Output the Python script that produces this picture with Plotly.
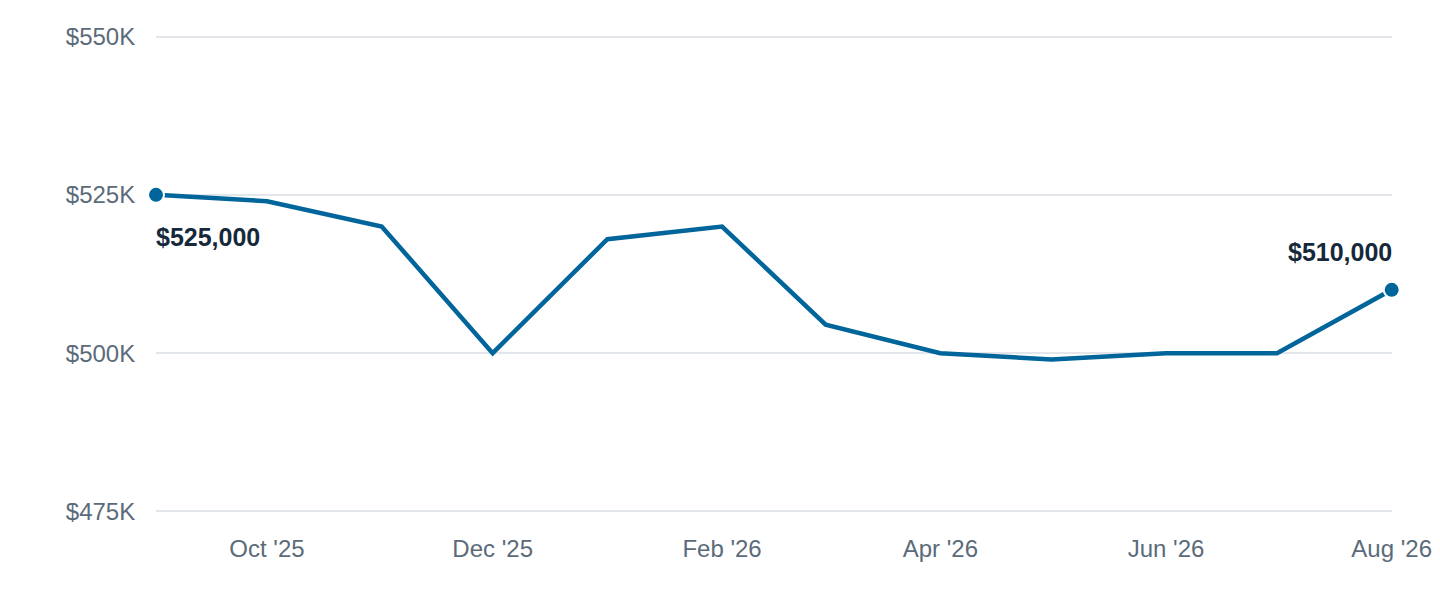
import plotly.graph_objects as go

# monthly median price
months = ["2025-09-01", "2025-10-01", "2025-11-01", "2025-12-01", "2026-01-01", "2026-02-01",
          "2026-03-01", "2026-04-01", "2026-05-01", "2026-06-01", "2026-07-01", "2026-08-01"]
prices = [525000, 524000, 520000, 500000, 518000, 520000,
          504500, 500000, 499000, 500000, 500000, 510000]

tick_vals = ["2025-10-01", "2025-12-01", "2026-02-01", "2026-04-01", "2026-06-01", "2026-08-01"]
tick_text = ["Oct '25", "Dec '25", "Feb '26", "Apr '26", "Jun '26", "Aug '26"]
y_ticks = [475000, 500000, 525000, 550000]
y_text = ["$475K", "$500K", "$525K", "$550K"]

line_color = "#00659a"
font = "Helvetica, Arial, Liberation Sans, sans-serif"

fig = go.Figure()
fig.add_trace(go.Scatter(
    x=months, y=prices, mode="lines",
    line=dict(color=line_color, width=4.5),
    cliponaxis=False, hoverinfo="skip",
))
# end points
fig.add_trace(go.Scatter(
    x=[months[0], months[-1]], y=[prices[0], prices[-1]], mode="markers",
    marker=dict(color=line_color, size=16, line=dict(color="white", width=2)),
    cliponaxis=False, hoverinfo="skip",
))

fig.add_annotation(x=months[0], y=prices[0], text="<b>$%s</b>" % format(prices[0], ","),
                   showarrow=False, xanchor="left", yanchor="top", yshift=-26, xshift=-2,
                   font=dict(size=25, color="#15293a", family=font))
fig.add_annotation(x=months[-1], y=prices[-1], text="<b>$%s</b>" % format(prices[-1], ","),
                   showarrow=False, xanchor="right", yanchor="bottom", yshift=22, xshift=2,
                   font=dict(size=25, color="#15293a", family=font))

# page body has an 8px margin, so size the figure to fit inside it
fig.update_layout(
    width=1424, height=584,
    margin=dict(l=148, r=40, t=26, b=78),
    plot_bgcolor="white", paper_bgcolor="white",
    showlegend=False,
    font=dict(family=font, size=24, color="#5b6b7a"),
)
fig.update_xaxes(
    range=["2025-09-01", "2026-08-01 02:00"], tickvals=tick_vals, ticktext=tick_text,
    showgrid=False, zeroline=False, showline=False, automargin=False,
    ticks="outside", ticklen=0, ticklabelstandoff=13, ticklabeloverflow="allow",
)
# range padded a couple of px so the edge gridlines are kept
fig.update_yaxes(
    range=[474600, 550400], tickvals=y_ticks, ticktext=y_text,
    showgrid=True, gridcolor="#e3e7ec", gridwidth=2, zeroline=False, showline=False,
    automargin=False, ticks="outside", ticklen=0, ticklabelstandoff=15,
)

fig.write_html("out.html")
